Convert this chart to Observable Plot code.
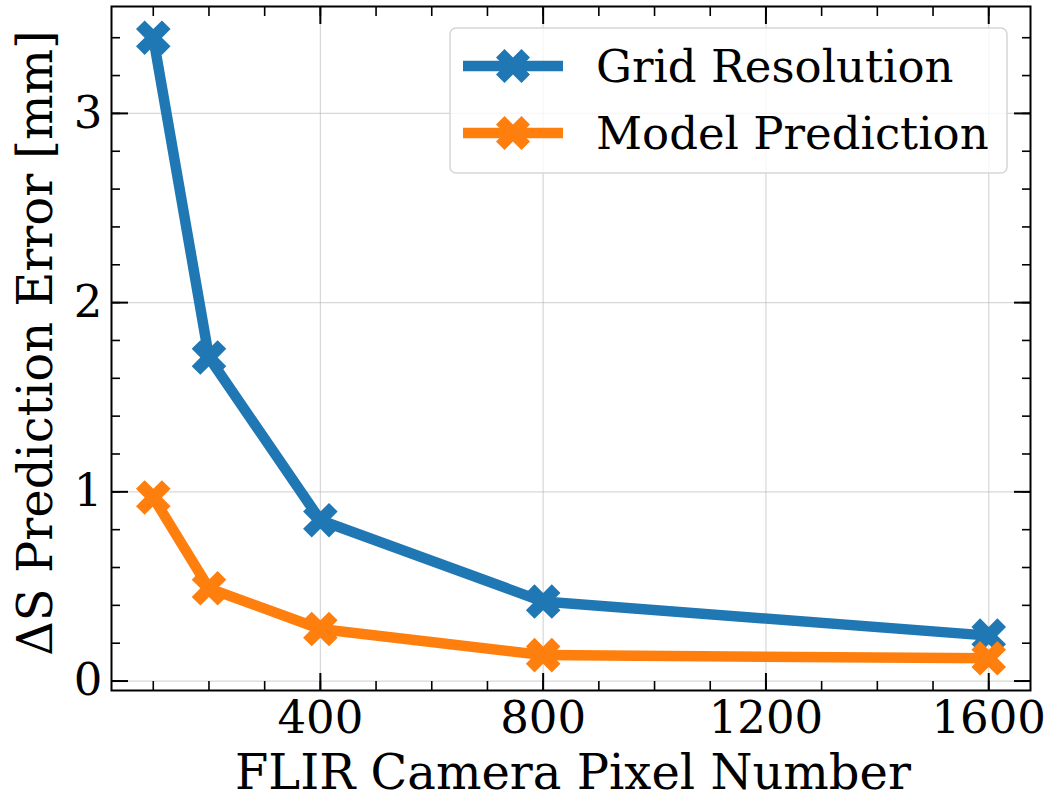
<!DOCTYPE html>
<html>
<head>
<meta charset="utf-8">
<script src="https://cdn.jsdelivr.net/npm/d3@7"></script>
<script src="https://cdn.jsdelivr.net/npm/@observablehq/plot@0.6"></script>
<style>
  html, body { margin: 0; padding: 0; background: #fff; }
  #chart { position: relative; width: 1047px; height: 800px; }
</style>
</head>
<body>
<div id="chart"></div>
<script>
const pixels = [100, 200, 400, 800, 1600];
const gridResolution = [3.40, 1.71, 0.85, 0.42, 0.24];
const modelPrediction = [0.97, 0.49, 0.275, 0.137, 0.12];
const seriesNames = ["Grid Resolution", "Model Prediction"];
const seriesColors = ["#1f77b4", "#ff7f0e"];
const xTicks = [400, 800, 1200, 1600];
const yTicks = [0, 1, 2, 3];
const xMinor = d3.range(100, 1700, 100);
const yMinor = d3.range(0, 18).map(i => +(i * 0.2).toFixed(1));

const rows = [];
pixels.forEach((p, i) => {
  rows.push({x: p, y: gridResolution[i], s: seriesNames[0]});
  rows.push({x: p, y: modelPrediction[i], s: seriesNames[1]});
});

const FONT = "DejaVu Serif";
const FS = 45;      // tick labels & legend
const FSL = 48;     // axis titles
const W = 1047, H = 800;
const ML = 111, MR = 17, MT = 6, MB = 110;

// matplotlib "X" (x_filled) marker as a custom symbol
const xSymbol = {
  draw(context, size) {
    const a = Math.sqrt(size) / 2; // half-extent
    const t = a * 0.5;
    const pts = [
      [0, -t], [a - t, -a], [a, -a + t], [t, 0], [a, a - t], [a - t, a],
      [0, t], [-a + t, a], [-a, a - t], [-t, 0], [-a, -a + t], [-a + t, -a]
    ];
    context.moveTo(pts[0][0], pts[0][1]);
    for (let i = 1; i < pts.length; i++) context.lineTo(pts[i][0], pts[i][1]);
    context.closePath();
  }
};

const plot = Plot.plot({
  width: W,
  height: H,
  marginLeft: ML,
  marginRight: MR,
  marginTop: MT,
  marginBottom: MB,
  style: {fontFamily: FONT, fontSize: FS + "px", background: "white", color: "black"},
  x: {domain: [25, 1675], label: null},
  y: {domain: [-0.05, 3.565], label: null},
  color: {domain: seriesNames, range: seriesColors},
  symbol: {domain: seriesNames, range: [xSymbol, xSymbol]},
  marks: [
    Plot.gridX(xTicks, {stroke: "#b0b0b0", strokeOpacity: 0.5, strokeWidth: 1.2}),
    Plot.gridY(yTicks, {stroke: "#b0b0b0", strokeOpacity: 0.5, strokeWidth: 1.2}),
    Plot.line(rows, {x: "x", y: "y", z: "s", stroke: "s", strokeWidth: 10.5}),
    Plot.dot(rows, {x: "x", y: "y", fill: "s", symbol: "s", r: 19.5, stroke: null}),
    // major ticks, inward, all four sides
    Plot.axisX(xTicks, {anchor: "bottom", tickSize: -17, tickFormat: () => "", strokeWidth: 2, label: null}),
    Plot.axisX(xTicks, {anchor: "top", tickSize: -17, tickFormat: () => "", strokeWidth: 2, label: null}),
    Plot.axisY(yTicks, {anchor: "left", tickSize: -17, tickFormat: () => "", strokeWidth: 2, label: null}),
    Plot.axisY(yTicks, {anchor: "right", tickSize: -17, tickFormat: () => "", strokeWidth: 2, label: null}),
    // minor ticks
    Plot.axisX(xMinor, {anchor: "bottom", tickSize: -9, tickFormat: () => "", strokeWidth: 1.6, label: null}),
    Plot.axisX(xMinor, {anchor: "top", tickSize: -9, tickFormat: () => "", strokeWidth: 1.6, label: null}),
    Plot.axisY(yMinor, {anchor: "left", tickSize: -9, tickFormat: () => "", strokeWidth: 1.6, label: null}),
    Plot.axisY(yMinor, {anchor: "right", tickSize: -9, tickFormat: () => "", strokeWidth: 1.6, label: null}),
    // tick labels
    Plot.axisX(xTicks, {anchor: "bottom", tickSize: 0, tickPadding: 11, fontSize: FS, tickFormat: d3.format("d"), label: null}),
    Plot.axisY(yTicks, {anchor: "left", tickSize: 0, tickPadding: 9, fontSize: FS, tickFormat: d3.format("d"), label: null}),
    Plot.frame({stroke: "black", strokeWidth: 2})
  ]
});

const root = document.getElementById("chart");
root.appendChild(plot);

const svg = d3.select(plot);
// axis titles
svg.append("text")
  .attr("x", 573)
  .attr("y", 789)
  .attr("text-anchor", "middle")
  .attr("font-family", FONT)
  .attr("font-size", FSL)
  .attr("fill", "black")
  .text("FLIR Camera Pixel Number");

svg.append("text")
  .attr("transform", `translate(52, 343) rotate(-90)`)
  .attr("text-anchor", "middle")
  .attr("font-family", FONT)
  .attr("font-size", FSL)
  .attr("fill", "black")
  .text("ΔS Prediction Error [mm]");

// legend
const lg = svg.append("g");
lg.append("rect")
  .attr("x", 450).attr("y", 28).attr("width", 557).attr("height", 145)
  .attr("rx", 6).attr("fill", "white").attr("fill-opacity", 0.8)
  .attr("stroke", "#d6d6d6").attr("stroke-width", 1.5);
seriesNames.forEach((name, i) => {
  const cy = 66 + i * 67;
  lg.append("line").attr("x1", 463).attr("x2", 563).attr("y1", cy).attr("y2", cy)
    .attr("stroke", seriesColors[i]).attr("stroke-width", 10.5);
  const p = d3.path();
  xSymbol.draw(p, 34 * 34);
  lg.append("path").attr("d", p.toString()).attr("transform", `translate(513,${cy})`)
    .attr("fill", seriesColors[i]);
  lg.append("text").attr("x", 596).attr("y", cy).attr("dy", "0.35em")
    .attr("text-anchor", "start")
    .attr("font-family", FONT).attr("font-size", FS).attr("fill", "black")
    .text(name);
});
</script>
</body>
</html>
